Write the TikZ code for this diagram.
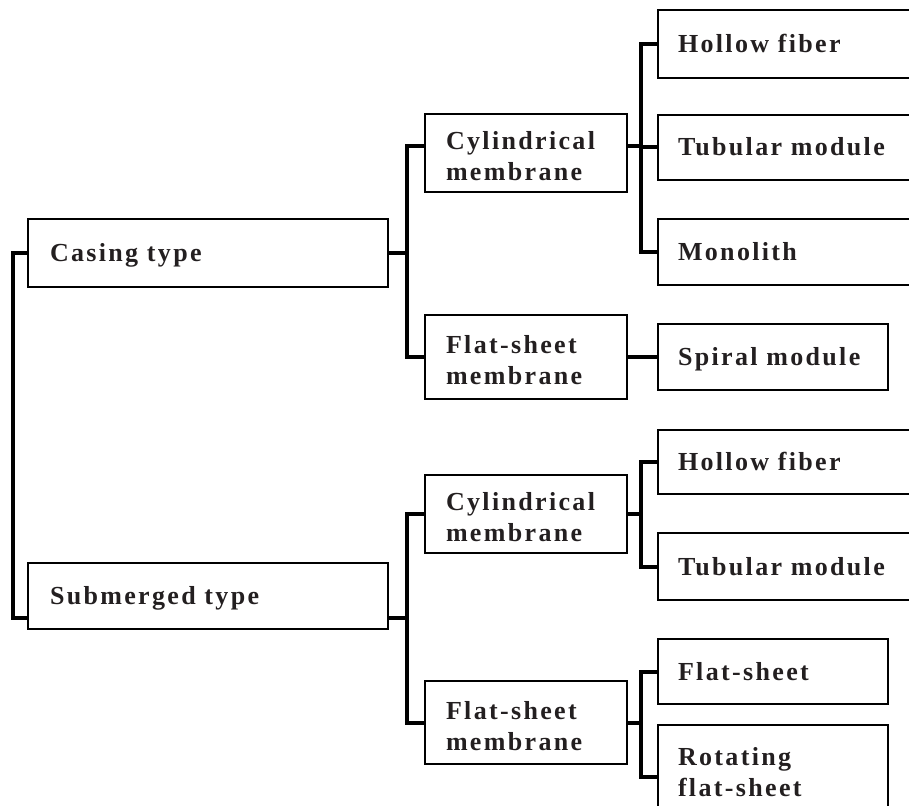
\documentclass[tikz,border=0pt]{standalone}
\usepackage{fontspec}
\usepackage{xcolor}
\usetikzlibrary{positioning}
\newfontfamily\treefont{Liberation Serif}[LetterSpace=9.0]
\definecolor{inkgray}{RGB}{35,31,32}
\tikzset{
	tbox/.style={rectangle, draw, line width=2.3pt, outer sep=0pt, align=left,
		font=\treefont\bfseries\fontsize{26}{31}\selectfont, text=inkgray},
	onebox/.style={tbox, text height=17pt, text depth=0pt},
	twobox/.style={tbox, text depth=25pt},
	typebox/.style={onebox, inner xsep=22pt, text width=316pt},
	membox/.style={twobox, inner xsep=21pt, text width=160pt},
	modbox/.style={onebox, inner xsep=20pt, text width=240pt},
	shortbox/.style={onebox, inner xsep=20pt, text width=190pt},
	conn/.style={line width=4pt},
}

\begin{document}
\begin{tikzpicture}[x=1pt, y=-1pt]
	\clip (0,0) rectangle (909,805);
	% first level
	\node[typebox, minimum height=68pt, anchor=north west] (casing) at (28,219) {Casing type};
	\node[typebox, minimum height=66pt, below=276pt of casing] (sub) {Submerged type};
	% membrane shape
	\node[membox, minimum height=78pt, anchor=north west] (cyl1) at (425,114) {Cylindrical\\membrane};
	\node[membox, minimum height=84pt, below=123pt of cyl1] (flat1) {Flat-sheet\\membrane};
	\node[membox, minimum height=78pt, below=76pt of flat1] (cyl2) {Cylindrical\\membrane};
	\node[membox, minimum height=83pt, below=128pt of cyl2] (flat2) {Flat-sheet\\membrane};
	% modules
	\node[modbox, minimum height=68pt, anchor=north west] (hollow1) at (658,10) {Hollow fiber};
	\node[modbox, minimum height=65pt, below=37pt of hollow1] (tube1) {Tubular module};
	\node[modbox, minimum height=66pt, below=39pt of tube1] (mono) {Monolith};
	\node[shortbox, minimum height=66pt, below=39pt of mono.south west, anchor=north west] (spiral) {Spiral module};
	\node[modbox, minimum height=64pt, below=40pt of spiral.south west, anchor=north west] (hollow2) {Hollow fiber};
	\node[modbox, minimum height=67pt, below=39pt of hollow2] (tube2) {Tubular module};
	\node[shortbox, minimum height=65pt, below=39pt of tube2.south west, anchor=north west] (flatsh) {Flat-sheet};
	\node[twobox, inner xsep=20pt, text width=190pt, minimum height=88pt, below=21pt of flatsh] (rotflat) {Rotating\\flat-sheet};

	\draw[conn] (casing.west) -- ++(-15,0) |- ([yshift=-22pt]sub.west);
	\draw[conn] (casing.east) -- ++(19,0) |- ([yshift=7pt]cyl1.west);
	\draw[conn] (casing.east) -- ++(19,0) |- (flat1.west);
	\draw[conn] ([yshift=-22pt]sub.east) -- ++(19,0) |- (cyl2.west);
	\draw[conn] ([yshift=-22pt]sub.east) -- ++(19,0) |- (flat2.west);
	\draw[conn] ([yshift=7pt]cyl1.east) -- ++(14,0) |- (hollow1.west);
	\draw[conn] ([yshift=7pt]cyl1.east) -- ++(14,0) |- (tube1.west);
	\draw[conn] ([yshift=7pt]cyl1.east) -- ++(14,0) |- (mono.west);
	\draw[conn] (flat1.east) -- (spiral.west);
	\draw[conn] (cyl2.east) -- ++(14,0) |- (hollow2.west);
	\draw[conn] (cyl2.east) -- ++(14,0) |- (tube2.west);
	\draw[conn] (flat2.east) -- ++(14,0) |- (flatsh.west);
	\draw[conn] (flat2.east) -- ++(14,0) |- ([yshift=-8pt]rotflat.west);
\end{tikzpicture}
\end{document}
